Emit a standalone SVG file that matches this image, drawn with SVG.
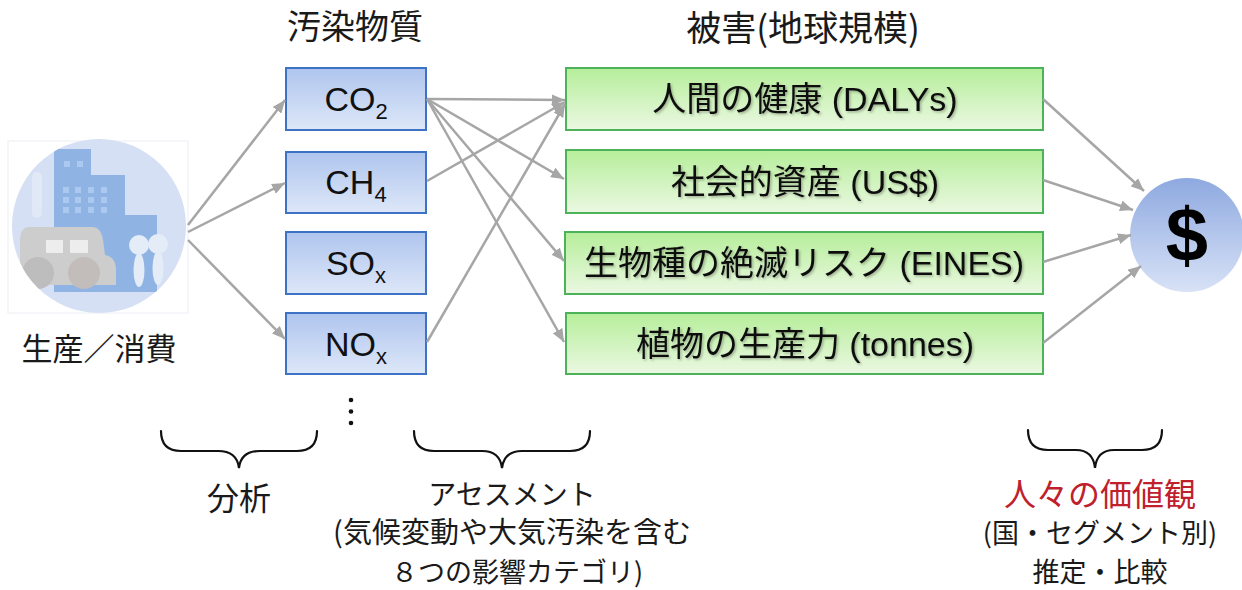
<svg xmlns="http://www.w3.org/2000/svg" width="1242" height="590" viewBox="0 0 1242 590">
  <defs>
    <linearGradient id="gBlue" x1="0" y1="0" x2="0" y2="1">
      <stop offset="0" stop-color="#AFC5EE"/>
      <stop offset="1" stop-color="#DDE7F8"/>
    </linearGradient>
    <linearGradient id="gGreen" x1="0" y1="0" x2="0" y2="1">
      <stop offset="0" stop-color="#B6EE9A"/>
      <stop offset="1" stop-color="#EBF8E2"/>
    </linearGradient>
    <linearGradient id="gCoin" x1="0" y1="0" x2="0" y2="1">
      <stop offset="0" stop-color="#8EA9E0"/>
      <stop offset="1" stop-color="#D8E2F6"/>
    </linearGradient>
    <filter id="txtShadow" x="-5%" y="-20%" width="110%" height="140%">
      <feDropShadow dx="1.5" dy="1.5" stdDeviation="1" flood-color="#000" flood-opacity="0.28"/>
    </filter>
    <marker id="arrow" markerUnits="userSpaceOnUse" markerWidth="13" markerHeight="11" refX="13" refY="5.5" orient="auto">
      <path d="M0,0 L13,5.5 L0,11 z" fill="#A6A6A6"/>
    </marker>
    <clipPath id="iconClip">
      <circle cx="99" cy="226" r="87"/>
    </clipPath>
  </defs>
  <style>
    .title { font-family: "Noto Sans CJK JP", "Liberation Sans", sans-serif; font-size: 34px; fill: #1a1a1a; text-anchor: middle; }
    .note { font-family: "Noto Sans CJK JP", "Liberation Sans", sans-serif; font-size: 28px; fill: #1a1a1a; text-anchor: middle; }
    .chem { font-family: "Liberation Sans", "Noto Sans CJK JP", sans-serif; font-size: 34px; fill: #111; text-anchor: middle; }
    .dmg { font-family: "Liberation Sans", "Noto Sans CJK JP", sans-serif; font-size: 34px; fill: #111; text-anchor: middle; filter: url(#txtShadow); }
    .pBox { fill: url(#gBlue); stroke: #3D72C4; stroke-width: 2; }
    .dBox { fill: url(#gGreen); stroke: #4DB35A; stroke-width: 2; }
    .conn path { fill: none; stroke: #A6A6A6; stroke-width: 2.5; marker-end: url(#arrow); }
    .brace { fill: none; stroke: #111; stroke-width: 2.2; stroke-linecap: round; }
  </style>

  <rect width="1242" height="590" fill="#fff"/>

  <!-- production / consumption icon -->
  <g id="source">
    <rect x="8" y="141" width="180" height="172" fill="none" stroke="#F2F4F8" stroke-width="1.5"/>
    <circle cx="99" cy="226" r="87" fill="#D5E0F4"/>
    <g clip-path="url(#iconClip)">
      <rect x="32" y="172" width="10" height="46" rx="5" fill="#E2E9F6"/>
      <polygon points="54,149 91,149 91,175 125,175 125,215 157,215 157,292 54,292" fill="#8FB4E4"/>
      <g fill="#ABC8EE">
        <rect x="64" y="161" width="6" height="6"/>
        <rect x="77" y="161" width="6" height="6"/>
        <rect x="63" y="187" width="6" height="6"/>
        <rect x="75" y="187" width="6" height="6"/>
        <rect x="88" y="187" width="6" height="6"/>
        <rect x="101" y="187" width="6" height="6"/>
        <rect x="63" y="197" width="6" height="6"/>
        <rect x="75" y="197" width="6" height="6"/>
        <rect x="88" y="197" width="6" height="6"/>
        <rect x="101" y="197" width="6" height="6"/>
        <rect x="63" y="207" width="6" height="6"/>
        <rect x="75" y="207" width="6" height="6"/>
        <rect x="88" y="207" width="6" height="6"/>
        <rect x="101" y="207" width="6" height="6"/>
      </g>
      <!-- car -->
      <path d="M30,227 L92,227 Q101,227 103,240 L105,255 Q116,257 116,270 L116,285 L20,285 L20,240 Q20,227 30,227 z" fill="#CDCDCD"/>
      <rect x="46" y="240" width="17" height="13" fill="#EDEDED"/>
      <rect x="70" y="240" width="18" height="13" fill="#EDEDED"/>
      <circle cx="38" cy="273" r="16" fill="#BDBDBD"/>
      <circle cx="84" cy="273" r="16" fill="#C2BCBA"/>
      <!-- people -->
      <g fill="#E4ECF8">
        <circle cx="139" cy="245" r="10"/>
        <circle cx="158" cy="244" r="10"/>
        <ellipse cx="139" cy="270" rx="5.5" ry="17"/>
        <ellipse cx="158" cy="268" rx="5.5" ry="17"/>
      </g>
    </g>
    <text class="title" x="99" y="360" style="font-size:31px">生産／消費</text>
  </g>

  <!-- column headings -->
  <text id="head-pollutants" class="title" x="355" y="39">汚染物質</text>
  <text id="head-damage" class="title" x="803" y="41" style="font-size:35px">被害(地球規模)</text>

  <!-- pollutants -->
  <g id="co2">
    <rect class="pBox" x="286" y="68" width="140" height="62"/>
    <text class="chem" x="356" y="111">CO<tspan dy="8" style="font-size:22px">2</tspan></text>
  </g>
  <g id="ch4">
    <rect class="pBox" x="286" y="152" width="140" height="61"/>
    <text class="chem" x="356" y="194">CH<tspan dy="8" style="font-size:22px">4</tspan></text>
  </g>
  <g id="sox">
    <rect class="pBox" x="286" y="232" width="140" height="62"/>
    <text class="chem" x="356" y="275">SO<tspan dy="8" style="font-size:22px">x</tspan></text>
  </g>
  <g id="nox">
    <rect class="pBox" x="286" y="313" width="140" height="61"/>
    <text class="chem" x="356" y="356">NO<tspan dy="8" style="font-size:22px">x</tspan></text>
  </g>
  <g id="more" fill="#111">
    <circle cx="351" cy="400" r="2.3"/>
    <circle cx="351" cy="411.5" r="2.3"/>
    <circle cx="351" cy="423" r="2.3"/>
  </g>

  <!-- damage endpoints -->
  <g id="health">
    <rect class="dBox" x="566" y="68" width="477" height="62"/>
    <text class="dmg" x="805" y="111">人間の健康 (DALYs)</text>
  </g>
  <g id="assets">
    <rect class="dBox" x="566" y="150" width="477" height="63"/>
    <text class="dmg" x="805" y="194">社会的資産 (US$)</text>
  </g>
  <g id="species">
    <rect class="dBox" x="565" y="232" width="478" height="62"/>
    <text class="dmg" x="804" y="275">生物種の絶滅リスク (EINES)</text>
  </g>
  <g id="plants">
    <rect class="dBox" x="566" y="313" width="477" height="61"/>
    <text class="dmg" x="805" y="356">植物の生産力 (tonnes)</text>
  </g>

  <!-- monetary value -->
  <g id="value">
    <circle cx="1187" cy="235" r="57" fill="url(#gCoin)"/>
    <text x="1187" y="261" style="font-family:'Liberation Sans',sans-serif;font-size:76px;font-weight:bold;fill:#000;text-anchor:middle">$</text>
  </g>

  <!-- connectors -->
  <g id="connectors" class="conn">
    <path d="M188,225 L285,100"/>
    <path d="M188,232 L285,183"/>
    <path d="M188,240 L285,339"/>
    <path d="M427,99 L565,100"/>
    <path d="M427,99 L564,179"/>
    <path d="M427,99 L564,261"/>
    <path d="M427,99 L564,342"/>
    <path d="M427,181 L565,102"/>
    <path d="M427,342 L565,104"/>
    <path d="M1043,99 L1144,191"/>
    <path d="M1043,180 L1133,210"/>
    <path d="M1043,262 L1131,235"/>
    <path d="M1043,343 L1141,266"/>
  </g>

  <!-- stage annotations -->
  <g id="analysis">
    <path class="brace" d="M161,431 Q161,451 181,451 L218,451 Q237,451 239,468 Q241,451 260,451 L297,451 Q317,451 317,431"/>
    <text class="note" x="239" y="510" style="font-size:32px">分析</text>
  </g>
  <g id="assessment">
    <path class="brace" d="M414,431 Q414,451 434,451 L482,451 Q500,451 502,468 Q504,451 522,451 L570,451 Q590,451 590,431"/>
    <text class="note" x="512" y="505">アセスメント</text>
    <text class="note" x="512" y="543" style="font-size:29px">(気候変動や大気汚染を含む</text>
    <text class="note" x="517" y="582" style="font-size:27px">８つの影響カテゴリ)</text>
  </g>
  <g id="valuation">
    <path class="brace" d="M1028,430 Q1028,450 1048,450 L1076,450 Q1093,450 1095,468 Q1097,450 1114,450 L1142,450 Q1162,450 1162,430"/>
    <text class="note" x="1100" y="506" style="font-size:32px;fill:#C0202C">人々の価値観</text>
    <text class="note" x="1100" y="543" style="font-size:27px">(国・セグメント別)</text>
    <text class="note" x="1100" y="582" style="font-size:27px">推定・比較</text>
  </g>
</svg>
